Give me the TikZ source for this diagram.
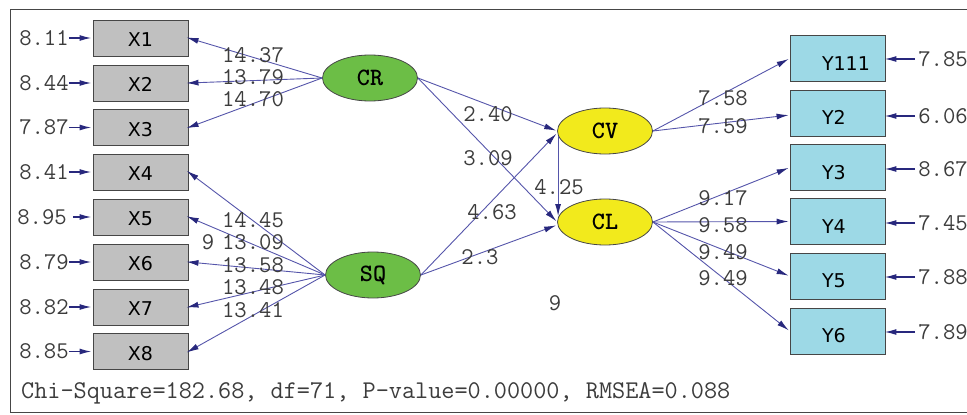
\documentclass[tikz,border=0pt]{standalone}
\usepackage{fontspec}
\newfontfamily\boxfont{DejaVu Sans}
\usetikzlibrary{arrows.meta,shapes.geometric}
\definecolor{lineblue}{RGB}{85,85,170}
\definecolor{tipblue}{RGB}{40,40,125}
\definecolor{boxgray}{RGB}{192,192,192}
\definecolor{latgreen}{RGB}{108,190,70}
\definecolor{latyellow}{RGB}{242,234,28}
\definecolor{boxcyan}{RGB}{157,217,230}
\definecolor{numgray}{RGB}{60,60,60}
\definecolor{edgegray}{RGB}{70,70,70}
\tikzset{
  xbox/.style={draw=edgegray, line width=0.9pt, fill=boxgray, minimum width=95pt, minimum height=36pt, inner sep=0pt, text height=17pt, text depth=0pt, font=\boxfont\fontsize{19}{19}\selectfont},
  ybox/.style={draw=edgegray, line width=0.9pt, fill=boxcyan, minimum width=95pt, minimum height=46pt, inner sep=0pt, text width=95pt, align=left, text height=23pt, text depth=0pt, font=\boxfont\fontsize{19}{19}\selectfont},
  lat/.style={ellipse, draw=edgegray, line width=0.8pt, minimum width=95pt, minimum height=46pt, inner sep=0pt, font=\ttfamily\bfseries\fontsize{25}{25}\selectfont},
  num/.style={inner sep=0pt, text=numgray, font=\ttfamily\fontsize{24}{24}\selectfont},
  arr/.style={draw=lineblue, line width=0.9pt, -{Latex[length=12pt,width=6pt,color=tipblue]}, shorten >=1pt},
  earr/.style={draw=tipblue, line width=1.4pt, -{Latex[length=12pt,width=6pt,color=tipblue]}, shorten >=1pt},
}
\begin{document}
\begin{tikzpicture}[x=1pt,y=-1pt]
\useasboundingbox (0,0) rectangle (967,415);
\draw[edgegray, line width=1pt] (10,9) rectangle (975,412);
% X boxes
\foreach \i/\y in {1/38,2/83,3/127.5,4/172,5/217,6/262,7/307,8/351.5}{
  \node[xbox] (x\i) at (140.5,\y) {X\i};
}
% Y boxes
\node[ybox] (y1) at (837.5,58.5) {\hspace*{32pt}Y111};
\node[ybox] (y2) at (837.5,113) {\hspace*{32pt}Y2};
\node[ybox] (y3) at (837.5,167.5) {\hspace*{32pt}Y3};
\node[ybox] (y4) at (837.5,221.5) {\hspace*{32pt}Y4};
\node[ybox] (y5) at (837.5,276) {\hspace*{32pt}Y5};
\node[ybox] (y6) at (837.5,331) {\hspace*{32pt}Y6};
% latent
\node[lat, fill=latgreen] (cr) at (370,78) {CR};
\node[lat, fill=latgreen] (sq) at (373,275) {SQ};
\node[lat, fill=latyellow] (cv) at (605,131) {CV};
\node[lat, fill=latyellow] (cl) at (605,222) {CL};
% left errors
\node[num] (ex1) at (44,38) {8.11};
\node[num] (ex2) at (44,83) {8.44};
\node[num] (ex3) at (44,127.5) {7.87};
\node[num] (ex4) at (44,172) {8.41};
\node[num] (ex5) at (42,217) {8.95};
\node[num] (ex6) at (44,262) {8.79};
\node[num] (ex7) at (44,307) {8.82};
\node[num] (ex8) at (44,351.5) {8.85};
\foreach \i in {1,2,3,4,6,7,8}{ \draw[earr] (ex\i.east) -- (x\i.west); }
\draw[earr, shorten <=6pt] (ex5.east) -- (x5.west);
% right errors
\node[num] (ey1) at (943,59) {7.85};
\node[num] (ey2) at (943,116) {6.06};
\node[num] (ey3) at (943,169) {8.67};
\node[num] (ey4) at (943,223) {7.45};
\node[num] (ey5) at (943,277) {7.88};
\node[num] (ey6) at (943,332) {7.89};
\foreach \i in {1,...,6}{ \draw[earr, shorten <=3pt, shorten >=-1pt] (ey\i.west) -- (y\i.east |- ey\i.west); }
% loadings X
\foreach \i in {1,2,3}{ \draw[arr, shorten >=-2pt] (cr.west) -- (x\i.east); }
\foreach \i in {4,...,8}{ \draw[arr, shorten >=-2pt] (sq.west) -- (x\i.east); }
% structural
\draw[arr] (cr.east) -- (cv.west);
\draw[arr] (cr.east) -- (cl.west);
\draw[arr] (sq.east) -- ([yshift=-2pt]cv.west);
\draw[arr] (sq.east) -- ([yshift=-3pt]cl.west);
\draw[arr] ([xshift=1pt,yshift=-5pt]cv.west) -- ([xshift=1pt,yshift=5pt]cl.west);
% loadings Y
\draw[arr] (cv.east) -- (y1.west);
\draw[arr] (cv.east) -- ([yshift=-2pt]y2.west);
\foreach \i in {3,...,6}{ \draw[arr] (cl.east) -- (y\i.west); }
% labels
\node[num] at (253,55) {14.37};
\node[num] at (253,77) {13.79};
\node[num] at (253,99) {14.70};
\node[num] at (253,220) {14.45};
\node[num] at (208,242) {9};
\node[num] at (253,242.5) {13.09};
\node[num] at (253,265) {13.58};
\node[num] at (253,287) {13.48};
\node[num] at (253,310) {13.41};
\node[num] at (488,114) {2.40};
\node[num] at (488,158) {3.09};
\node[num] at (559,187) {4.25};
\node[num] at (492,212) {4.63};
\node[num] at (480,257) {2.3};
\node[num] at (555,303) {9};
\node[num] at (723,98) {7.58};
\node[num] at (723,126) {7.59};
\node[num] at (723,198) {9.17};
\node[num] at (723,225) {9.58};
\node[num] at (723,252) {9.49};
\node[num] at (723,278) {9.49};
\node[num, anchor=west, font=\ttfamily\fontsize{25.5}{25.5}\selectfont] (fit) at (21,393) {Chi-Square=182.68, df=71, P-value=0.00000, RMSEA=0.088};
\end{tikzpicture}
\end{document}
